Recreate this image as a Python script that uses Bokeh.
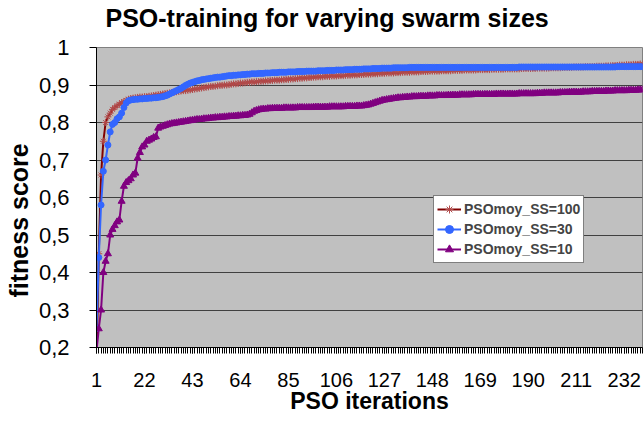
from bokeh.plotting import figure
from bokeh.models import FixedTicker, Legend, LegendItem, Range1d, Title
from bokeh.embed import file_html
from bokeh.resources import INLINE

# ---------------- data ----------------
iterations = list(range(1, 241))

ss100 = [
    0.15, 0.45, 0.66, 0.75, 0.80, 0.815, 0.825, 0.835, 0.840, 0.845,
    0.849, 0.853, 0.856, 0.859, 0.862, 0.864, 0.865, 0.866, 0.867, 0.868,
    0.868, 0.869, 0.869, 0.870, 0.871, 0.872, 0.873, 0.874, 0.875, 0.876,
    0.877, 0.878, 0.879, 0.880, 0.881, 0.882, 0.883, 0.884, 0.885, 0.885,
    0.886, 0.887, 0.888, 0.889, 0.890, 0.891, 0.892, 0.893, 0.894, 0.895,
    0.896, 0.896, 0.897, 0.898, 0.899, 0.899, 0.900, 0.900, 0.901, 0.902,
    0.903, 0.903, 0.904, 0.905, 0.905, 0.906, 0.907, 0.907, 0.908, 0.908,
    0.909, 0.909, 0.910, 0.910, 0.911, 0.911, 0.912, 0.912, 0.913, 0.913,
    0.913, 0.914, 0.914, 0.915, 0.915, 0.916, 0.916, 0.917, 0.917, 0.918,
    0.918, 0.919, 0.919, 0.920, 0.920, 0.921, 0.921, 0.922, 0.922, 0.922,
    0.923, 0.923, 0.923, 0.924, 0.924, 0.924, 0.925, 0.925, 0.925, 0.926,
    0.926, 0.926, 0.927, 0.927, 0.927, 0.928, 0.928, 0.928, 0.929, 0.929,
    0.929, 0.930, 0.930, 0.930, 0.931, 0.931, 0.931, 0.932, 0.932, 0.932,
    0.932, 0.933, 0.933, 0.933, 0.934, 0.934, 0.934, 0.934, 0.935, 0.935,
    0.935, 0.935, 0.936, 0.936, 0.936, 0.936, 0.937, 0.937, 0.937, 0.937,
    0.937, 0.938, 0.938, 0.938, 0.938, 0.938, 0.939, 0.939, 0.939, 0.939,
    0.939, 0.940, 0.940, 0.940, 0.940, 0.940, 0.940, 0.941, 0.941, 0.941,
    0.941, 0.941, 0.941, 0.942, 0.942, 0.942, 0.942, 0.942, 0.942, 0.943,
    0.943, 0.943, 0.943, 0.943, 0.943, 0.943, 0.944, 0.944, 0.944, 0.944,
    0.944, 0.944, 0.944, 0.945, 0.945, 0.945, 0.945, 0.945, 0.945, 0.946,
    0.946, 0.946, 0.946, 0.946, 0.947, 0.947, 0.947, 0.947, 0.947, 0.948,
    0.948, 0.948, 0.948, 0.948, 0.949, 0.949, 0.949, 0.949, 0.949, 0.950,
    0.950, 0.950, 0.950, 0.951, 0.951, 0.951, 0.952, 0.952, 0.952, 0.953,
    0.953, 0.953, 0.954, 0.954, 0.954, 0.955, 0.955, 0.955, 0.956, 0.956,
]

ss30 = [
    0.25, 0.44, 0.58, 0.67, 0.70, 0.74, 0.775, 0.795, 0.800, 0.810,
    0.815, 0.825, 0.840, 0.852, 0.858, 0.860, 0.861, 0.862, 0.862, 0.863,
    0.863, 0.864, 0.864, 0.865, 0.865, 0.866, 0.866, 0.867, 0.868, 0.869,
    0.871, 0.873, 0.876, 0.879, 0.882, 0.885, 0.888, 0.891, 0.895, 0.899,
    0.902, 0.905, 0.907, 0.909, 0.911, 0.912, 0.914, 0.915, 0.916, 0.917,
    0.918, 0.919, 0.920, 0.921, 0.921, 0.922, 0.923, 0.924, 0.925, 0.925,
    0.926, 0.926, 0.927, 0.927, 0.928, 0.928, 0.929, 0.929, 0.930, 0.930,
    0.930, 0.931, 0.931, 0.931, 0.932, 0.932, 0.932, 0.933, 0.933, 0.933,
    0.934, 0.934, 0.934, 0.934, 0.935, 0.935, 0.935, 0.935, 0.936, 0.936,
    0.936, 0.936, 0.937, 0.937, 0.937, 0.937, 0.937, 0.938, 0.938, 0.938,
    0.938, 0.939, 0.939, 0.939, 0.939, 0.940, 0.940, 0.940, 0.940, 0.941,
    0.941, 0.941, 0.941, 0.942, 0.942, 0.942, 0.942, 0.943, 0.943, 0.943,
    0.943, 0.944, 0.944, 0.944, 0.944, 0.945, 0.945, 0.945, 0.945, 0.945,
    0.946, 0.946, 0.946, 0.946, 0.946, 0.946, 0.946, 0.947, 0.947, 0.947,
    0.947, 0.947, 0.947, 0.947, 0.947, 0.947, 0.947, 0.947, 0.947, 0.947,
    0.947, 0.947, 0.947, 0.947, 0.947, 0.947, 0.947, 0.947, 0.947, 0.947,
    0.947, 0.947, 0.947, 0.947, 0.947, 0.947, 0.947, 0.947, 0.947, 0.947,
    0.947, 0.947, 0.947, 0.947, 0.947, 0.947, 0.947, 0.947, 0.947, 0.947,
    0.947, 0.947, 0.947, 0.947, 0.947, 0.948, 0.948, 0.948, 0.948, 0.948,
    0.948, 0.948, 0.948, 0.948, 0.948, 0.948, 0.948, 0.948, 0.948, 0.948,
    0.948, 0.948, 0.948, 0.948, 0.948, 0.948, 0.948, 0.948, 0.948, 0.948,
    0.948, 0.948, 0.948, 0.948, 0.948, 0.948, 0.948, 0.948, 0.948, 0.948,
    0.948, 0.948, 0.948, 0.948, 0.948, 0.948, 0.948, 0.948, 0.949, 0.949,
    0.949, 0.949, 0.949, 0.949, 0.949, 0.949, 0.949, 0.949, 0.949, 0.949,
]

ss10 = [
    0.19, 0.25, 0.30, 0.40, 0.43, 0.45, 0.50, 0.515, 0.525, 0.535,
    0.540, 0.590, 0.630, 0.640, 0.645, 0.650, 0.660, 0.665, 0.705, 0.720,
    0.735, 0.740, 0.750, 0.753, 0.756, 0.760, 0.762, 0.785, 0.788, 0.790,
    0.792, 0.794, 0.796, 0.797, 0.798, 0.799, 0.800, 0.801, 0.802, 0.803,
    0.804, 0.805, 0.806, 0.807, 0.808, 0.808, 0.809, 0.810, 0.810, 0.811,
    0.812, 0.812, 0.813, 0.813, 0.814, 0.814, 0.815, 0.815, 0.816, 0.816,
    0.817, 0.817, 0.818, 0.818, 0.819, 0.819, 0.820, 0.822, 0.826, 0.830,
    0.832, 0.834, 0.835, 0.836, 0.836, 0.837, 0.837, 0.838, 0.838, 0.838,
    0.838, 0.838, 0.839, 0.839, 0.839, 0.839, 0.839, 0.839, 0.840, 0.840,
    0.840, 0.840, 0.840, 0.840, 0.840, 0.841, 0.841, 0.841, 0.841, 0.841,
    0.841, 0.841, 0.842, 0.842, 0.842, 0.842, 0.842, 0.842, 0.842, 0.843,
    0.843, 0.843, 0.843, 0.843, 0.844, 0.844, 0.844, 0.845, 0.846, 0.847,
    0.849, 0.851, 0.853, 0.855, 0.857, 0.859, 0.860, 0.861, 0.862, 0.863,
    0.864, 0.865, 0.866, 0.866, 0.867, 0.867, 0.868, 0.868, 0.869, 0.869,
    0.869, 0.870, 0.870, 0.870, 0.870, 0.871, 0.871, 0.871, 0.871, 0.872,
    0.872, 0.872, 0.872, 0.872, 0.873, 0.873, 0.873, 0.873, 0.873, 0.874,
    0.874, 0.874, 0.874, 0.874, 0.874, 0.875, 0.875, 0.875, 0.875, 0.875,
    0.875, 0.875, 0.875, 0.875, 0.875, 0.876, 0.876, 0.876, 0.876, 0.876,
    0.876, 0.876, 0.876, 0.876, 0.876, 0.877, 0.877, 0.877, 0.877, 0.877,
    0.877, 0.877, 0.877, 0.878, 0.878, 0.878, 0.879, 0.879, 0.879, 0.879,
    0.879, 0.879, 0.879, 0.880, 0.880, 0.880, 0.880, 0.881, 0.881, 0.881,
    0.881, 0.881, 0.881, 0.882, 0.882, 0.882, 0.882, 0.883, 0.883, 0.883,
    0.883, 0.883, 0.883, 0.884, 0.884, 0.884, 0.884, 0.885, 0.885, 0.885,
    0.885, 0.885, 0.885, 0.886, 0.886, 0.886, 0.886, 0.887, 0.887, 0.887,
]

series_names = ["PSOmoy_SS=100", "PSOmoy_SS=30", "PSOmoy_SS=10"]
x_ticks = [1, 22, 43, 64, 85, 106, 127, 148, 169, 190, 211, 232]
x_tick_labels = ["1", "22", "43", "64", "85", "106", "127", "148", "169", "190", "211", "232"]
y_ticks = [0.2, 0.3, 0.4, 0.5, 0.6, 0.7, 0.8, 0.9, 1.0]
y_tick_labels = ["0,2", "0,3", "0,4", "0,5", "0,6", "0,7", "0,8", "0,9", "1"]

title_text = "PSO-training for varying swarm sizes"
x_title = "PSO iterations"
y_title = "fitness score"

# ---------------- figure ----------------
FONT = "Liberation Sans"

p = figure(width=644, height=422, output_backend="svg", toolbar_location=None,
           x_range=Range1d(1, 240), y_range=Range1d(0.2, 1.0),
           min_border_left=96, min_border_right=2, min_border_top=47,
           min_border_bottom=75)
p.background_fill_color = "#C0C0C0"
p.border_fill_color = "white"
p.outline_line_color = "#808080"
p.outline_line_width = 1

# invisible spacer between the frame and the chart title
spacer = Title(text=" ", text_font=FONT, text_font_size="12px", standoff=0,
               text_color="white")
p.add_layout(spacer, "above")

p.title.text = title_text
p.title.text_font = FONT
p.title.text_font_style = "bold"
p.title.text_font_size = "25px"
p.title.text_color = "black"
p.title.align = "left"
p.title.vertical_align = "bottom"
p.title.offset = 9
p.title.standoff = 0

p.xgrid.visible = False
p.ygrid.ticker = FixedTicker(ticks=y_ticks)
p.ygrid.grid_line_color = "#404040"
p.ygrid.grid_line_width = 1

xa = p.xaxis[0]
xa.ticker = FixedTicker(ticks=x_ticks, minor_ticks=iterations)
xa.major_label_overrides = dict(zip(x_ticks, x_tick_labels))
xa.axis_line_color = "black"
xa.major_tick_out = 6
xa.major_tick_in = 0
xa.minor_tick_out = 6
xa.minor_tick_in = 0
xa.major_tick_line_color = "black"
xa.minor_tick_line_color = "black"
xa.major_label_text_font = FONT
xa.major_label_text_font_size = "20px"
xa.major_label_text_color = "black"
xa.major_label_standoff = 19
xa.axis_label = x_title
xa.axis_label_text_font = FONT
xa.axis_label_text_font_style = "bold"
xa.axis_label_text_font_size = "23px"
xa.axis_label_text_color = "black"
xa.axis_label_standoff = -2

ya = p.yaxis[0]
ya.ticker = FixedTicker(ticks=y_ticks, minor_ticks=[])
ya.major_label_overrides = dict(zip(y_ticks, y_tick_labels))
ya.axis_line_color = "black"
ya.major_tick_out = 7
ya.major_tick_in = 0
ya.minor_tick_out = 0
ya.minor_tick_in = 0
ya.major_tick_line_color = "black"
ya.major_label_text_font = FONT
ya.major_label_text_font_size = "22px"
ya.major_label_text_color = "black"
ya.major_label_standoff = 20

ytitle = Title(text=y_title, align="left", offset=50, standoff=5,
               text_font=FONT, text_font_style="bold", text_font_size="25px",
               text_color="black")
p.add_layout(ytitle, "left")

# ---------------- series ----------------
l1 = p.line(iterations, ss100, line_color="#800000", line_width=2)
m1 = p.scatter(iterations, ss100, marker="asterisk", size=7,
               line_color="#B24A4A", line_width=1)
l2 = p.line(iterations, ss30, line_color="#3366FF", line_width=2)
m2 = p.scatter(iterations, ss30, marker="circle", size=6,
               line_color="#3366FF", fill_color="#3366FF")
l3 = p.line(iterations, ss10, line_color="#800080", line_width=2)
m3 = p.scatter(iterations, ss10, marker="triangle", size=7,
               line_color="#800080", fill_color="#800080")

legend = Legend(items=[
    LegendItem(label=series_names[0], renderers=[l1, m1]),
    LegendItem(label=series_names[1], renderers=[l2, m2]),
    LegendItem(label=series_names[2], renderers=[l3, m3]),
], location=(337, 84))
legend.border_line_color = "black"
legend.border_line_width = 1
legend.background_fill_color = "white"
legend.background_fill_alpha = 1
legend.label_text_font = FONT
legend.label_text_font_style = "bold"
legend.label_text_font_size = "14px"
legend.glyph_width = 24
legend.glyph_height = 20
legend.label_height = 20
legend.label_standoff = 3
legend.padding = 3
legend.spacing = 0
legend.margin = 0
p.add_layout(legend)

open("out.html", "w").write(file_html(p, INLINE))
